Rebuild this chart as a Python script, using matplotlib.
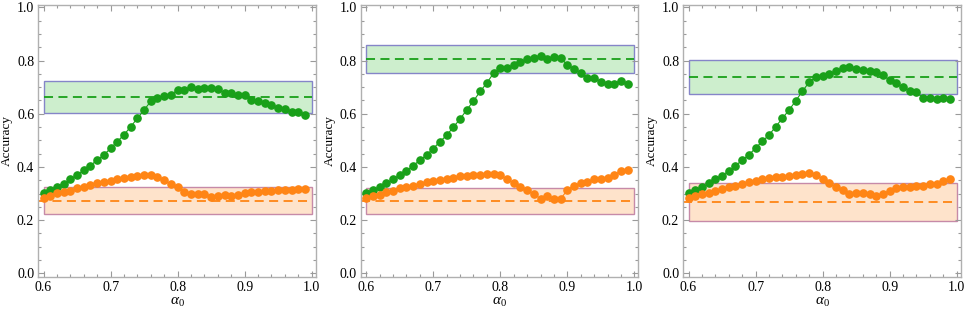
import matplotlib
matplotlib.use("Agg")
import matplotlib.pyplot as plt
from matplotlib.patches import Rectangle
from matplotlib.ticker import MultipleLocator, FormatStrFormatter
import numpy as np

plt.rcParams['font.family'] = ['Liberation Serif', 'DejaVu Serif']
plt.rcParams['mathtext.fontset'] = 'custom'
plt.rcParams['mathtext.rm'] = 'Liberation Serif'
plt.rcParams['mathtext.it'] = 'Liberation Serif:italic'

alpha0 = np.round(np.arange(0.60, 0.995, 0.01), 2)

# panel 1
green1 = [0.303, 0.313, 0.326, 0.337, 0.353, 0.370, 0.387, 0.405, 0.426, 0.445,
          0.470, 0.495, 0.521, 0.551, 0.583, 0.614, 0.647, 0.660, 0.668, 0.672,
          0.689, 0.689, 0.702, 0.692, 0.695, 0.698, 0.693, 0.679, 0.679, 0.670,
          0.670, 0.653, 0.647, 0.642, 0.633, 0.620, 0.618, 0.608, 0.605, 0.595]
orange1 = [0.284, 0.291, 0.301, 0.305, 0.311, 0.320, 0.326, 0.332, 0.338, 0.343,
           0.348, 0.353, 0.358, 0.363, 0.365, 0.368, 0.368, 0.362, 0.350, 0.335,
           0.326, 0.306, 0.297, 0.298, 0.300, 0.287, 0.292, 0.294, 0.292, 0.293,
           0.303, 0.305, 0.307, 0.311, 0.311, 0.312, 0.313, 0.313, 0.317, 0.318]
# panel 2
green2 = [0.303, 0.313, 0.323, 0.338, 0.353, 0.370, 0.385, 0.405, 0.425, 0.445,
          0.469, 0.495, 0.519, 0.550, 0.580, 0.615, 0.648, 0.684, 0.716, 0.753,
          0.773, 0.771, 0.784, 0.793, 0.805, 0.810, 0.819, 0.806, 0.815, 0.809,
          0.784, 0.769, 0.755, 0.735, 0.734, 0.721, 0.713, 0.713, 0.725, 0.711]
orange2 = [0.284, 0.290, 0.296, 0.304, 0.310, 0.319, 0.325, 0.330, 0.336, 0.343,
           0.346, 0.351, 0.354, 0.360, 0.364, 0.366, 0.368, 0.371, 0.373, 0.375,
           0.371, 0.353, 0.340, 0.325, 0.313, 0.298, 0.281, 0.290, 0.279, 0.280,
           0.313, 0.330, 0.339, 0.344, 0.353, 0.354, 0.359, 0.369, 0.386, 0.388]
# panel 3
green3 = [0.303, 0.313, 0.323, 0.338, 0.353, 0.367, 0.385, 0.404, 0.426, 0.445,
          0.471, 0.496, 0.520, 0.551, 0.583, 0.614, 0.649, 0.685, 0.719, 0.739,
          0.742, 0.749, 0.759, 0.772, 0.774, 0.767, 0.766, 0.761, 0.757, 0.744,
          0.727, 0.714, 0.699, 0.687, 0.680, 0.660, 0.660, 0.655, 0.659, 0.655]
orange3 = [0.284, 0.291, 0.298, 0.303, 0.311, 0.317, 0.323, 0.330, 0.337, 0.343,
           0.347, 0.353, 0.357, 0.361, 0.363, 0.367, 0.370, 0.373, 0.376, 0.370,
           0.355, 0.338, 0.326, 0.313, 0.297, 0.301, 0.301, 0.297, 0.292, 0.297,
           0.311, 0.320, 0.325, 0.326, 0.330, 0.328, 0.335, 0.337, 0.347, 0.355]

# bands: (low, mean, high)
green_band = [(0.601, 0.663, 0.723), (0.753, 0.806, 0.860), (0.674, 0.739, 0.802)]
orange_band = [(0.223, 0.272, 0.323), (0.223, 0.271, 0.321), (0.198, 0.267, 0.338)]

greens = [green1, green2, green3]
oranges = [orange1, orange2, orange3]

GREEN = '#19a019'
ORANGE = '#ff8515'

W, H = 964, 312
fig = plt.figure(figsize=(W / 100, H / 100), dpi=100)
lefts = [38.3, 361.0, 683.3]
xmin, xmax = 0.5922, 1.006
ymin, ymax = -0.014, 1.009

for i in range(3):
    ax = fig.add_axes([lefts[i] / W, 35 / H, 277.4 / W, 272 / H])
    ax.set_xlim(xmin, xmax)
    ax.set_ylim(ymin, ymax)

    lo, mid, hi = green_band[i]
    ax.add_patch(Rectangle((0.6, lo), 0.4, hi - lo, facecolor='#cdeecd',
                           edgecolor='#8585c8', lw=1.0, zorder=1))
    ax.hlines(mid, 0.6, 1.0, colors=GREEN, linestyles=(0, (5, 3)), lw=1.3, zorder=2)
    lo, mid, hi = orange_band[i]
    ax.add_patch(Rectangle((0.6, lo), 0.4, hi - lo, facecolor='#fee3cb',
                           edgecolor='#c68aa8', lw=1.0, zorder=1))
    ax.hlines(mid, xmin, 1.0, colors=ORANGE, linestyles=(0, (5, 3)), lw=1.3, zorder=2)

    ax.plot(alpha0, greens[i], '-o', color=GREEN, ms=5.2, lw=0.8, zorder=3)
    ax.plot(alpha0, oranges[i], '-o', color=ORANGE, ms=5.2, lw=0.8, zorder=3)

    ax.xaxis.set_major_locator(MultipleLocator(0.1))
    ax.xaxis.set_minor_locator(MultipleLocator(0.02))
    ax.yaxis.set_major_locator(MultipleLocator(0.2))
    ax.yaxis.set_minor_locator(MultipleLocator(0.05))
    ax.xaxis.set_major_formatter(FormatStrFormatter('%.1f'))
    ax.yaxis.set_major_formatter(FormatStrFormatter('%.1f'))
    ax.tick_params(which='both', direction='in', top=True, right=True,
                   color='#9a9a9a', width=0.8, labelsize=10, pad=3)
    ax.tick_params(which='major', length=4)
    ax.tick_params(which='minor', length=2.2)
    for s in ax.spines.values():
        s.set_color('#b0b0b0')
        s.set_linewidth(1.0)

    ax.set_ylabel('Accuracy', fontsize=9.5)
    ax.yaxis.set_label_coords(-0.09, 0.5)
    ax.set_xlabel(r'$\alpha_0$', fontsize=11, labelpad=1)

fig.savefig('out.png', dpi=100)
